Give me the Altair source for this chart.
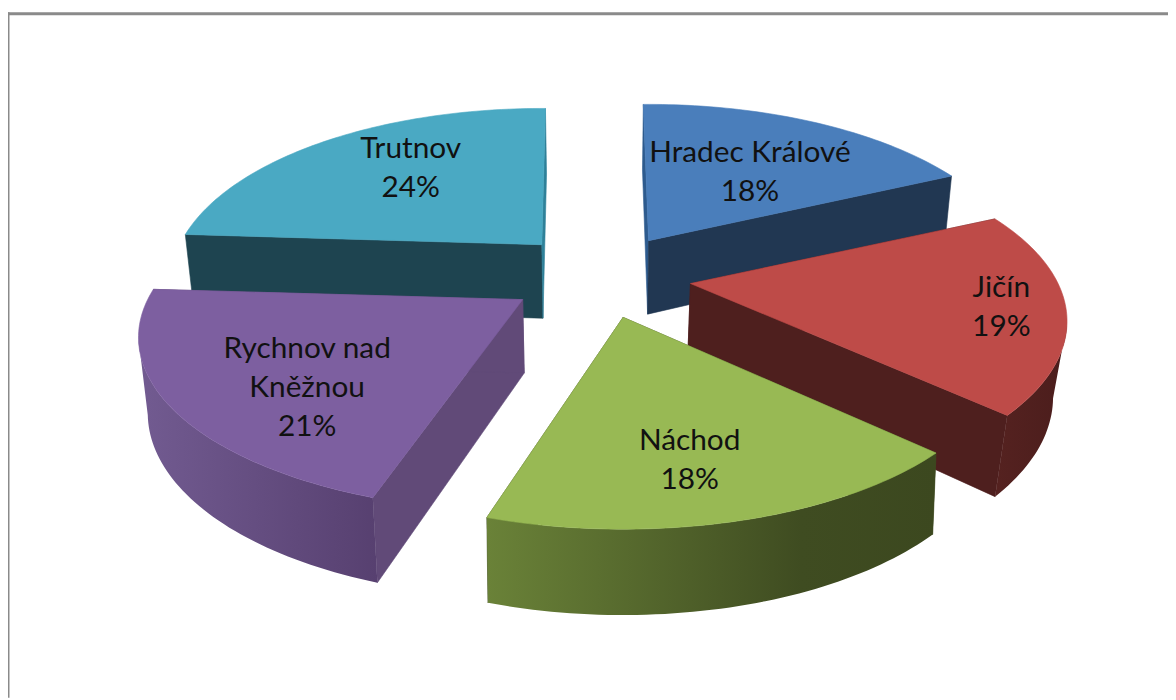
import math
import altair as alt

# --- chart values ---
categories = ["Hradec Králové", "Jičín", "Náchod", "Rychnov nad\nKněžnou", "Trutnov"]
shares = [18, 19, 18, 21, 24]

# --- styles ---
top_colors = ["#4a7ebb", "#be4b48", "#98b954", "#7d5fa0", "#4aa9c3"]
start_face = ["#2e5b8e", "#4e1f1e", "#3e4a20", "#614a78", "#1e4450"]
end_face = ["#213752", "#4e1f1e", "#3e4a20", "#614a78", "#2f8199"]
wall_stops = [
    None,
    [(0, "#552220"), (1, "#4b1d1c")],
    [(0, "#6a8238"), (0.7, "#3f4c21"), (1, "#3c481f")],
    [(0, "#725b91"), (1, "#574070")],
    None,
]

# --- layout of the projected pie ---
W, H = 1168, 692
CX, CY = 597.0, 269.0
RX, RY = 372.0, 167.0
PERSP = 0.217
EXPLODE = 0.23
DEPTH = 74.0
lean = [0.02, 0.03, 0.01, 0.02, 0.02]
nudge = [(4, -6), (5, 0), (0, 1), (-6, 0), (-3, -6)]
trim_deg = [(-1.0, 0), (0, -0.5), (0.8, -1.0), (0.5, 0), (0, 0.7)]
x_scale = [0.99, 0.995, 1.0, 1.015, 0.98]
label_offset = [(102, -88), (313, 5), (67, 125), (-217, 50), (-132, -96)]


def project(x, y):
    s = 1.0 / (1.0 + PERSP * y)
    return RX * x * s, -RY * y * s, s


def feature(points):
    ring = [[round(x, 2), round(y, 2)] for x, y in points]
    ring.append(ring[0])
    return {"type": "Feature", "properties": {},
            "geometry": {"type": "Polygon", "coordinates": [ring]}}


projection = alt.Projection(type="identity", scale=1, translate=[0, 0])


def shape(points, **mark):
    return alt.Chart(alt.Data(values=[feature(points)])).mark_geoshape(**mark).properties(projection=projection)


total = sum(shares)
starts = [sum(shares[:i]) / total * 2 * math.pi for i in range(len(shares))]
slices = []
for i, share in enumerate(shares):
    a0 = starts[i]
    a1 = a0 + share / total * 2 * math.pi
    mid = (a0 + a1) / 2
    dx, dy, _ = project(EXPLODE * math.sin(mid), EXPLODE * math.cos(mid))
    ax, ay = CX + dx + nudge[i][0], CY + dy + nudge[i][1]
    a0 += math.radians(trim_deg[i][0])
    a1 += math.radians(trim_deg[i][1])
    n = share * 3
    rim = []
    for k in range(n + 1):
        t = a0 + (a1 - a0) * k / n
        px, py, s = project(math.sin(t), math.cos(t))
        rim.append((ax + px * x_scale[i], ay + py, s))
    slices.append(dict(ax=ax, ay=ay, rim=rim))

layers = []
for i in [0, 4, 1, 3, 2]:      # back to front
    sl = slices[i]
    ax, ay, rim = sl["ax"], sl["ay"], sl["rim"]

    def below(px, py, s):
        return px - lean[i] * (px - CX), py + DEPTH + 45.0 * (s - 1.0)

    apex_low = below(ax, ay, 1.0)
    layers.append(shape([(ax, ay), rim[0][:2], below(*rim[0]), apex_low],
                        fill=start_face[i], stroke=start_face[i], strokeWidth=0.6))
    layers.append(shape([(ax, ay), rim[-1][:2], below(*rim[-1]), apex_low],
                        fill=end_face[i], stroke=end_face[i], strokeWidth=0.6))
    if wall_stops[i]:
        # only the part of the rim that faces the viewer has a visible wall
        xs = [p[0] for p in rim]
        if i == 1:
            front = rim[xs.index(max(xs)):]
        elif i == 3:
            front = rim[:xs.index(min(xs)) + 1]
        else:
            front = rim
        wall = [p[:2] for p in front] + [below(*p) for p in reversed(front)]
        gradient = {"gradient": "linear", "x1": 0, "x2": 1, "y1": 0, "y2": 0,
                    "stops": [{"offset": o, "color": c} for o, c in wall_stops[i]]}
        layers.append(shape(wall, fill=gradient))
    layers.append(shape([(ax, ay)] + [p[:2] for p in rim],
                        fill=top_colors[i], stroke=top_colors[i], strokeWidth=0.6))

labels = []
for i, sl in enumerate(slices):
    labels.append({"label": f"{categories[i]}\n{shares[i]}%",
                   "px": sl["ax"] + label_offset[i][0],
                   "py": sl["ay"] + label_offset[i][1]})

text = alt.Chart(alt.Data(values=labels)).mark_text(
    font="Lato", fontSize=30, lineBreak="\n", lineHeight=39, color="#111111",
    align="center", baseline="middle",
).encode(
    x=alt.X("px:Q", scale=None, axis=None),
    y=alt.Y("py:Q", scale=None, axis=None),
    text="label:N",
)

frame_top = alt.Chart(alt.Data(values=[{"k": 0}])).mark_rule(color="#8a8a8a", strokeWidth=3).encode(
    x=alt.value(0), x2=alt.value(W), y=alt.value(3.5))
frame_left = alt.Chart(alt.Data(values=[{"k": 0}])).mark_rule(color="#8a8a8a", strokeWidth=3).encode(
    x=alt.value(0), y=alt.value(2), y2=alt.value(H))

chart = alt.layer(*layers, text, frame_top, frame_left).properties(
    width=W, height=H, padding=0, autosize=alt.AutoSizeParams(type="none"),
    background="white",
).configure_view(stroke=None)

chart.save("out.html", embed_options={"renderer": "svg", "actions": False})
